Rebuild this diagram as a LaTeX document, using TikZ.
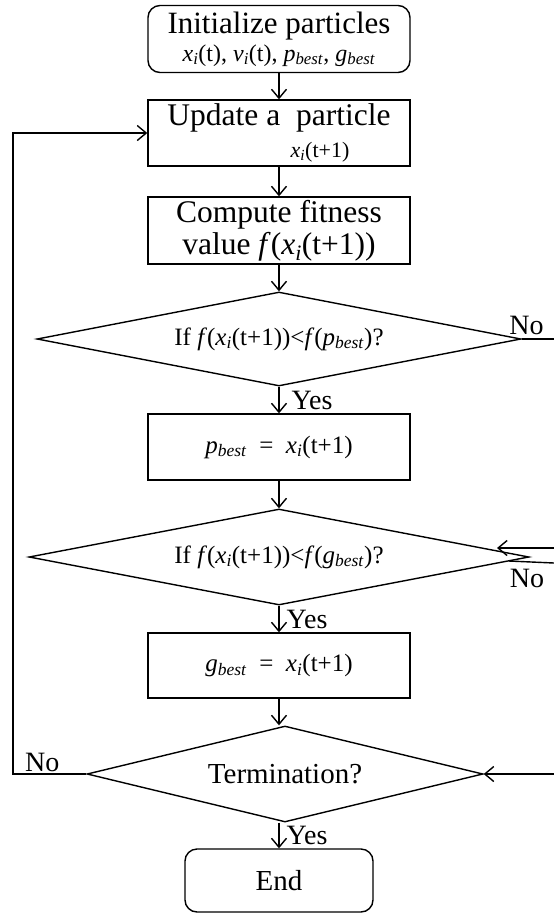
\documentclass[tikz,border=0pt]{standalone}
\usepackage{fontspec}
\setmainfont{Liberation Serif}
\usetikzlibrary{arrows.meta, shapes.geometric, positioning}
\newcommand{\xit}{\textit{x}\textsubscript{\textit{i}}}
\newcommand{\vit}{\textit{v}\textsubscript{\textit{i}}}
\newcommand{\pbest}{\textit{p}\textsubscript{\textit{best}}}
\newcommand{\gbest}{\textit{g}\textsubscript{\textit{best}}}
\newcommand{\ffun}{\textit{f}}

\begin{document}
\begin{tikzpicture}[x=1pt, y=-1pt,
    box/.style={draw, line width=1.4pt, inner sep=0pt, align=center, font=\fontsize{31.5}{32}\selectfont, minimum width=262pt, minimum height=66pt},
    term/.style={box, rounded corners=12pt},
    cond/.style={draw, diamond, aspect=6, inner sep=0pt, line width=1.4pt, font=\fontsize{25}{28}\selectfont},
    arr/.style={-{Straight Barb[length=9pt,width=15pt]}, line width=1.4pt},
    lbl/.style={font=\fontsize{28}{28}\selectfont, inner sep=0pt}]
  \useasboundingbox (0,0) rectangle (554,914);

  % Boxes
  \node[term, minimum height=67pt, font=\fontsize{31}{32}\selectfont] (init) at (279,39) {Initialize particles\\[-4pt]{\fontsize{24}{26}\selectfont\xit(t), \vit(t), \pbest, \gbest}};
  \node[box] (update) at (279,133) {Update a\ \ particle\\{\fontsize{22}{24}\selectfont\hspace*{82pt}\xit(t+1)}};
  \node[box, minimum height=67pt] (compute) at (279,230.5) {Compute fitness\\value \ffun(\xit(t+1))};
  \node[cond, minimum width=484pt, minimum height=94pt] (dia1) at (279,339) {If \ffun(\xit(t+1))<\ffun(\pbest)?};
  \node[box, font=\fontsize{25}{26}\selectfont] (pbest) at (279,447) {\pbest\ \ =\ \ \xit(t+1)};
  \node[cond, minimum width=500pt, minimum height=96pt] (dia2) at (279,557) {If \ffun(\xit(t+1))<\ffun(\gbest)?};
  \node[box, minimum height=65pt, font=\fontsize{25}{26}\selectfont] (gbest) at (279,665.5) {\gbest\ \ =\ \ \xit(t+1)};
  \node[cond, minimum width=396pt, minimum height=96pt, font=\fontsize{29}{30}\selectfont] (dia3) at (285,774) {Termination?};
  \node[term, minimum width=188pt, minimum height=63pt, font=\fontsize{29}{30}\selectfont] (end) at (279,880.5) {End};

  % Free ends at the right border and the loop
  \coordinate (r1) at (554,339);
  \coordinate (r2a) at (554,548);
  \coordinate (n2tip) at (497,548);
  \coordinate (r2b) at (554,563);
  \coordinate (r3) at (554,774);
  \coordinate (lp) at (13,0);

  % Main flow
  \draw[arr] (init) -- (update);
  \draw[arr] (update) -- (compute);
  \draw[arr] (compute) -- (dia1);
  \draw[arr] (dia1) -- node[lbl, anchor=west, xshift=12pt] (yes1) {Yes} (pbest);
  \draw[arr] (pbest) -- (dia2);
  \draw[arr] (dia2) -- node[lbl, anchor=west, xshift=7pt] (yes2) {Yes} (gbest);
  \draw[arr] (gbest.south) -- (gbest.south |- dia3.north);
  \draw[arr] (dia3.south -| end.north) -- node[lbl, anchor=west, xshift=7pt] (yes3) {Yes} (end.north);

  % No branches
  \draw[line width=1.4pt] (dia1.east) -- node[lbl, pos=0.15, anchor=south, yshift=4pt] (no1) {No} (r1);
  \draw[arr] (r2a) -- (n2tip);
  \draw[line width=1.4pt] (dia2.-1.6) -- node[lbl, pos=0.4, anchor=north, yshift=-7pt] (no2) {No} (r2b);
  \draw[arr] (r3) -- (dia3.east);
  \draw[arr] (dia3.west) -| node[lbl, pos=0.3, anchor=south, yshift=2pt] (no3) {No} (lp |- update.west) -- (update.west);
\end{tikzpicture}
\end{document}
